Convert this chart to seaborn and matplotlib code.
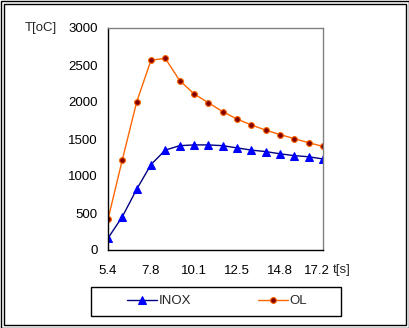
import matplotlib
matplotlib.use("Agg")
import matplotlib.pyplot as plt
import matplotlib.transforms as mtrans
import seaborn as sns
import pandas as pd
from matplotlib.patches import Rectangle

t_labels = ["5.4", "6.2", "7.0", "7.8", "8.6", "9.3", "10.1", "10.9", "11.7",
            "12.5", "13.2", "14.0", "14.8", "15.6", "16.4", "17.2"]
inox = [160, 450, 820, 1155, 1350, 1410, 1420, 1420, 1410, 1380, 1350, 1330,
        1300, 1275, 1260, 1230]
ol = [415, 1220, 2000, 2565, 2590, 2290, 2110, 1990, 1870, 1770, 1690, 1620,
      1560, 1505, 1450, 1400]

sns.set_style("white")
plt.rcParams['font.family'] = ['Liberation Sans', 'DejaVu Sans']
FS = 9.5

df = pd.DataFrame({"idx": list(range(len(t_labels))), "INOX": inox, "OL": ol})

W, H = 409, 328
fig = plt.figure(figsize=(W / 100, H / 100), dpi=100)
ax = fig.add_axes([108 / W, 1 - 250 / H, (323 - 108) / W, (250 - 28) / H])

sns.lineplot(data=df, x="idx", y="INOX", ax=ax, color="#000080", lw=1,
             marker="^", markersize=5.5, markerfacecolor="#0000FF",
             markeredgecolor="#0000FF", label="INOX")
sns.lineplot(data=df, x="idx", y="OL", ax=ax, color="#FF6600", lw=1,
             marker="o", markersize=4.2, markerfacecolor="#800000",
             markeredgecolor="#FF6600", markeredgewidth=0.8, label="OL")

ax.set_xlim(0, len(t_labels) - 1)
ax.set_ylim(0, 3000)
ax.set_yticks(range(0, 3001, 500))
ax.set_xticks(range(len(t_labels)))
ax.set_xticklabels([l if i % 3 == 0 else "" for i, l in enumerate(t_labels)])
ax.tick_params(axis="both", labelsize=FS, length=4, width=1, colors="black",
               direction="out")
ax.tick_params(axis="y", pad=3.5)
ax.tick_params(axis="x", pad=6.5)
ax.set_xlabel("")
ax.set_ylabel("")
for s in ["left", "bottom"]:
    ax.spines[s].set_color("black")
    ax.spines[s].set_linewidth(1)
for s in ["top", "right"]:
    ax.spines[s].set_color("#808080")
    ax.spines[s].set_linewidth(1)
ax.get_legend().remove()

last = ax.get_xticklabels()[-1]
last.set_transform(last.get_transform() +
                   mtrans.ScaledTranslation(-6 / 100, 0, fig.dpi_scale_trans))

fig.text(25 / W, 1 - 28 / H, "T[oC]", fontsize=FS, ha="left", va="center")
fig.text(333 / W, 1 - 270 / H, "t[s]", fontsize=FS, ha="left", va="center")

h, l = ax.get_legend_handles_labels()
leg = fig.legend(h, l, loc="center", ncol=2,
                 bbox_to_anchor=(217 / W, 1 - 301 / H),
                 frameon=False, fontsize=FS,
                 handlelength=2.3, handletextpad=0.1, columnspacing=5.1,
                 borderpad=0, borderaxespad=0)

fig.patches.append(Rectangle((90.5 / W, 1 - 315.5 / H), 250 / W, 29 / H,
                             transform=fig.transFigure, fill=False,
                             edgecolor="black", lw=1))
fig.patches.append(Rectangle((0.5 / W, 0.5 / H), 1 - 1 / W, 1 - 1 / H,
                             transform=fig.transFigure, fill=False,
                             edgecolor="black", lw=1))
fig.patches.append(Rectangle((3.5 / W, 3.5 / H), 1 - 7 / W, 1 - 7 / H,
                             transform=fig.transFigure, fill=False,
                             edgecolor="black", lw=1))

fig.savefig("out.png", dpi=100)
